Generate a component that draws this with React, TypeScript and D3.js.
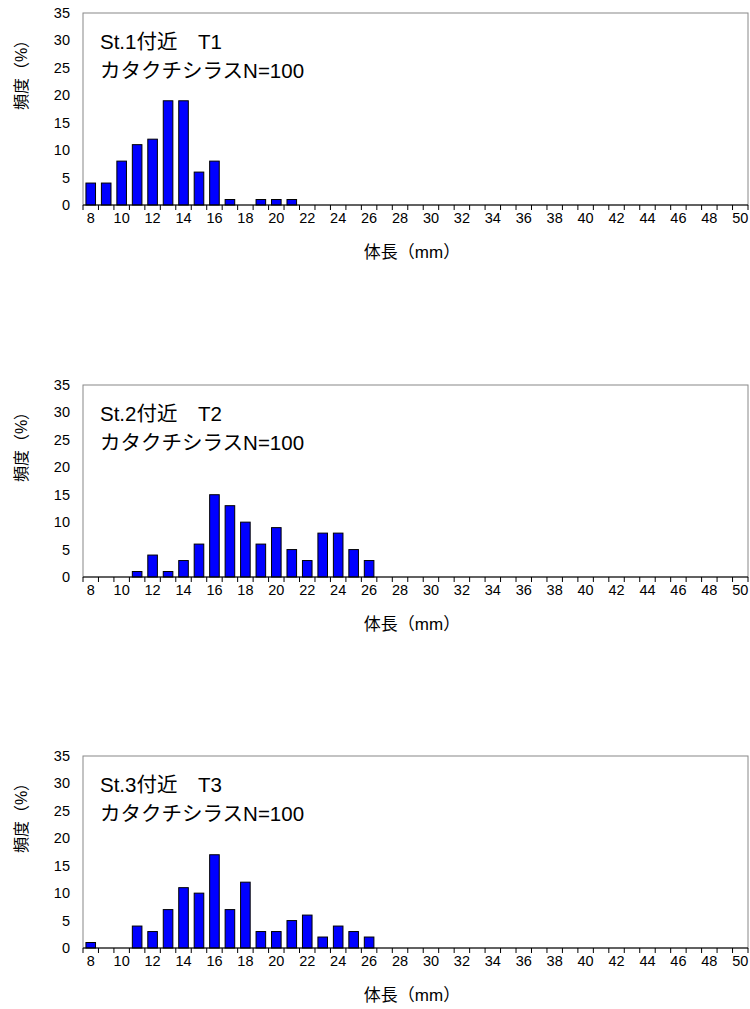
import React from "react";
import * as d3 from "d3";

// 体長 8..50 mm
const lengths = d3.range(8, 51);

const valuesT1: [number, number][] = [
  [8, 4], [9, 4], [10, 8], [11, 11], [12, 12], [13, 19], [14, 19],
  [15, 6], [16, 8], [17, 1], [18, 0], [19, 1], [20, 1], [21, 1],
];
const valuesT2: [number, number][] = [
  [11, 1], [12, 4], [13, 1], [14, 3], [15, 6], [16, 15], [17, 13], [18, 10],
  [19, 6], [20, 9], [21, 5], [22, 3], [23, 8], [24, 8], [25, 5], [26, 3],
];
const valuesT3: [number, number][] = [
  [8, 1], [11, 4], [12, 3], [13, 7], [14, 11], [15, 10], [16, 17], [17, 7],
  [18, 12], [19, 3], [20, 3], [21, 5], [22, 6], [23, 2], [24, 4], [25, 3], [26, 2],
];

const titles = ["St.1付近　T1", "St.2付近　T2", "St.3付近　T3"];
const subtitle = "カタクチシラスN=100";
const yTicks = [0, 5, 10, 15, 20, 25, 30, 35];
const xLabel = "体長（mm）";
const yLabel = "頻度（%）";

const panels = [
  { title: titles[0], values: valuesT1, top: 13 },
  { title: titles[1], values: valuesT2, top: 385 },
  { title: titles[2], values: valuesT3, top: 756 },
];

const left = 83;
const right = 748;
const plotH = 192;
const font = "'Liberation Sans', 'Noto Sans CJK JP', sans-serif";

const x = d3
  .scaleBand<number>()
  .domain(lengths)
  .range([left, right])
  .paddingInner(0.38)
  .paddingOuter(0.19);
const step = x.step();

const Panel = ({ title, values, top }: { title: string; values: [number, number][]; top: number }) => {
  const y = d3.scaleLinear().domain([0, 35]).range([top + plotH, top]);
  const base = y(0);
  return (
    <g fontFamily={font}>
      <rect x={left} y={top} width={right - left} height={plotH} fill="#fff" stroke="#888" strokeWidth={1} />
      {values.filter((d) => d[1] > 0).map((d) => (
        <rect
          key={d[0]}
          x={x(d[0])}
          y={y(d[1])}
          width={x.bandwidth()}
          height={base - y(d[1])}
          fill="#0000ff"
          stroke="#000"
          strokeWidth={1}
        />
      ))}
      <line x1={left} x2={right} y1={base} y2={base} stroke="#000" strokeWidth={1} />
      {d3.range(lengths.length + 1).map((i) => (
        <line key={i} x1={left + i * step} x2={left + i * step} y1={base} y2={base + 5} stroke="#000" />
      ))}
      {lengths.filter((v) => v % 2 === 0).map((v) => (
        <text key={v} x={(x(v) ?? 0) + x.bandwidth() / 2} y={base + 18} textAnchor="middle" fontSize={14.5} fill="#000">
          {v}
        </text>
      ))}
      {yTicks.map((t) => (
        <text key={t} x={70} y={y(t) + 5} textAnchor="end" fontSize={14.5} fill="#000">
          {t}
        </text>
      ))}
      <text x={100} y={top + 36} fontSize={20.5} fill="#000">{title}</text>
      <text x={100} y={top + 65} fontSize={20.5} fill="#000">{subtitle}</text>
      <text x={412} y={base + 53} textAnchor="middle" fontSize={17} fill="#000">{xLabel}</text>
      <text
        transform={`translate(27, ${top + 58}) rotate(-90)`}
        textAnchor="middle"
        fontSize={16}
        fill="#000"
      >
        {yLabel}
      </text>
    </g>
  );
};

export default function App() {
  return (
    <svg width={750} height={1009} style={{ position: "absolute", left: 0, top: 0, background: "#fff" }}>
      {panels.map((p) => (
        <Panel key={p.title} {...p} />
      ))}
    </svg>
  );
}
